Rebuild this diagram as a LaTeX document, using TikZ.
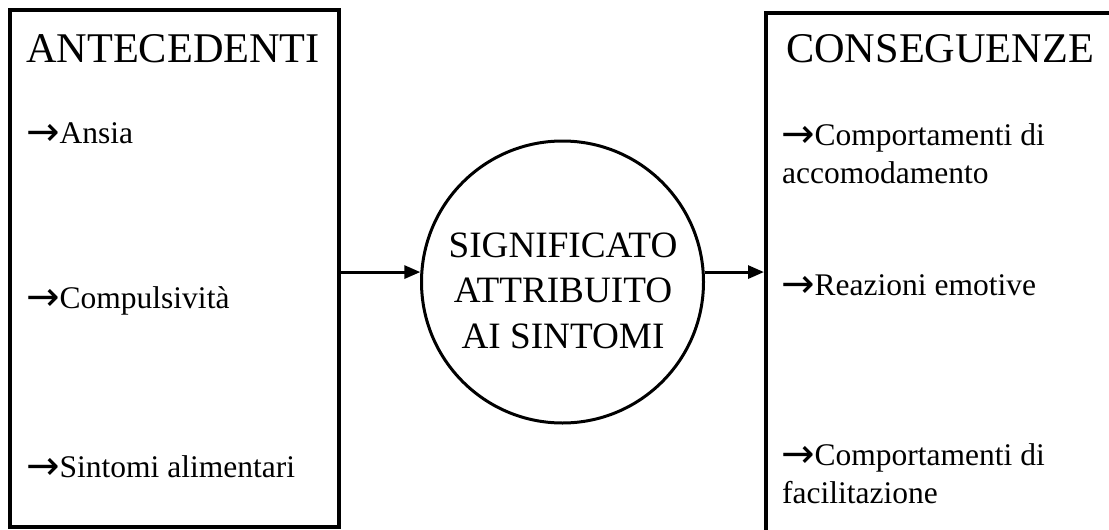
\documentclass[tikz,border=0pt]{standalone}
\usepackage{fontspec}
\setmainfont{Liberation Serif}
\newfontfamily\arrowglyph{DejaVu Sans}
\newcommand\itemarrow{\raisebox{-2.5pt}{\arrowglyph\fontsize{40}{38}\selectfont →}}
\usetikzlibrary{arrows.meta}
\begin{document}
\begin{tikzpicture}[x=1pt,y=-1pt,
  frame/.style={draw, line width=4pt, rectangle, inner sep=0pt},
  title/.style={font=\fontsize{42.3}{50}\selectfont, anchor=base west, inner sep=0pt},
  item/.style={font=\fontsize{31.5}{38}\selectfont, anchor=base west, inner sep=0pt},
  core/.style={font=\fontsize{37.2}{45}\selectfont, anchor=base, inner sep=0pt},
  link/.style={line width=3pt, -{Triangle[length=16pt,width=13pt]}}]
\useasboundingbox (0,0) rectangle (1109,530);
\fill[white] (0,0) rectangle (1109,530);

% the two side panels (the right one runs off the page)
\begin{scope}
  \clip (0,0) rectangle (1109,530);
  \node[frame, minimum width=329pt, minimum height=517pt] (ant) at (174.5,268.5) {};
  \node[frame, minimum width=356pt, minimum height=534pt] (cons) at (944,280) {};
\end{scope}

% central circle
\node[draw, circle, line width=3pt, minimum size=282pt, inner sep=0pt] (sig) at (562.5,282) {};
\node[core] (s1) at (563,257) {SIGNIFICATO};
\node[core] (s2) at (563,302) {ATTRIBUITO};
\node[core] (s3) at (563,348) {AI SINTOMI};

% left panel
\node[title] (tA) at (26,62) {ANTECEDENTI};
\node[item] (a1) at (26,143) {\itemarrow Ansia};
\node[item] (a2) at (26,308) {\itemarrow Compulsività};
\node[item] (a3) at (26,477) {\itemarrow Sintomi alimentari};

% right panel
\node[title] (tC) at (786,62) {CONSEGUENZE};
\node[item] (c1) at (781,145) {\itemarrow Comportamenti di};
\node[item] (c1b) at (782,183) {accomodamento};
\node[item] (c2) at (781,295) {\itemarrow Reazioni emotive};
\node[item] (c3) at (781,465) {\itemarrow Comportamenti di};
\node[item] (c3b) at (782,503) {facilitazione};

% connectors
\draw[link] (ant.east |- sig.176) -- (sig.176);
\draw[link] (sig.4) -- (cons.west |- sig.4);
\end{tikzpicture}
\end{document}
